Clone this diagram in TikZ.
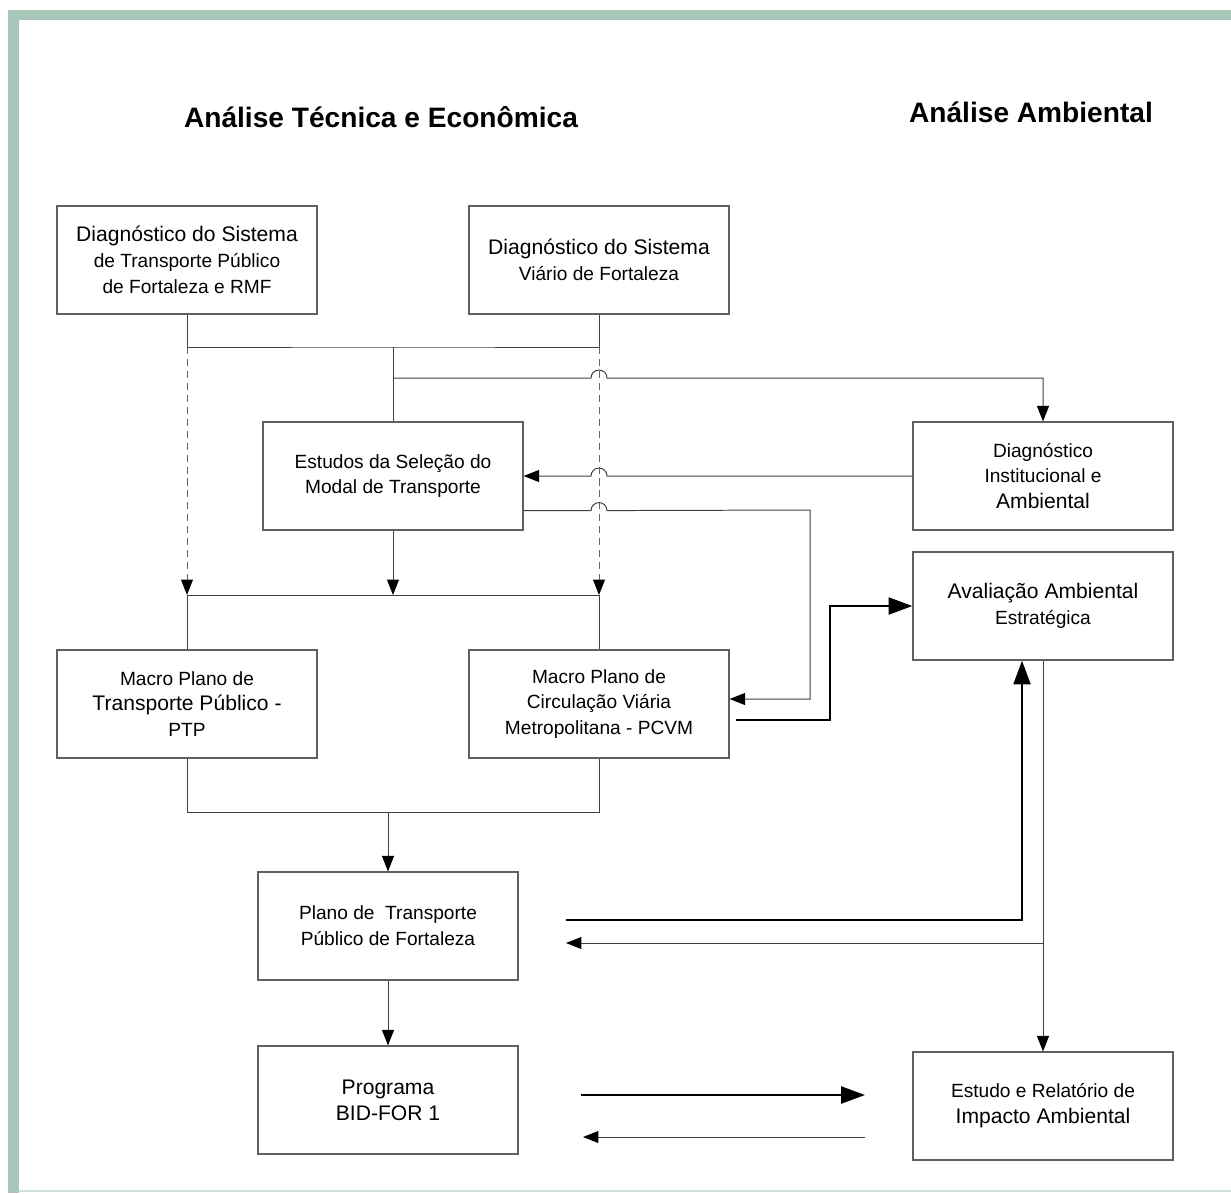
\documentclass[tikz,border=0pt]{standalone}
\usepackage{fontspec}
\setmainfont{Liberation Sans}
\usepackage{tikz}
\usetikzlibrary{positioning,calc,arrows.meta}
\definecolor{frame}{RGB}{168,199,185}
\definecolor{frameline}{RGB}{208,226,217}
\newcommand{\bln}{\fontsize{15}{18.4}\selectfont}

\begin{document}
\begin{tikzpicture}[
    x=0.025cm, y=-0.025cm,
    box/.style={draw=gray!75!black, line width=0.8pt, minimum width=6.5cm, minimum height=2.7cm,
        inner sep=0pt, align=center, font=\fontsize{13.6}{18.4}\selectfont},
    title/.style={font=\fontsize{20}{24}\selectfont\bfseries},
    line/.style={draw=black!75, line width=0.7pt},
    tip/.style={-{Triangle[length=11pt,width=8.5pt,color=black,fill=black]}},
    heavy/.style={draw=black, line width=2pt, -{Triangle[length=17pt,width=12pt]}},
    dashline/.style={draw=black!60, dash pattern=on 5pt off 3.5pt}
]
    \useasboundingbox (0,0) rectangle (1231,1193);
    \fill[frame] (8,10) rectangle (1231,20);
    \fill[frame] (8,10) rectangle (19,1193);
    \draw[frameline, line width=1.4pt] (19,1191) -- (1231,1191);

    \node[title] (t1) at (381,117) {Análise Técnica e Econômica};
    \node[title] (t2) at (1031,112) {Análise Ambiental};

    \node[box] (A) at (187,260) {{\bln Diagnóstico do Sistema}\\de Transporte Público\\de Fortaleza e RMF};
    \node[box] (B) at (599,260) {{\bln Diagnóstico do Sistema}\\Viário de Fortaleza};
    \node[box] (C) at (393,476) {Estudos da Seleção do\\Modal de Transporte};
    \node[box] (D) at (1043,476) {Diagnóstico\\Institucional e\\{\bln Ambiental}};
    \node[box] (E) at (1043,606) {{\bln Avaliação Ambiental}\\Estratégica};
    \node[box] (F) at (187,704) {Macro Plano de\\{\bln Transporte Público -}\\PTP};
    \node[box] (G) at (599,704) {Macro Plano de\\Circulação Viária\\Metropolitana - PCVM};
    \node[box] (H) at (388,926) {Plano de~ Transporte\\Público de Fortaleza};
    \node[box] (I) at (388,1100) {{\bln Programa}\\{\bln BID-FOR 1}};
    \node[box] (J) at (1043,1106) {Estudo e Relatório de\\{\bln Impacto Ambiental}};

    \coordinate (j1) at (393,347);
    \coordinate (j2) at (393,378);
    \coordinate (j3) at (393,595);
    \coordinate (j4) at (388,812);
    \coordinate (k1) at (810,510);
    \coordinate (k2) at (830,720);
    \coordinate (m1) at (566,920);
    \coordinate (m2) at (566,943);
    \coordinate (n1) at (581,1095);
    \coordinate (n2) at (865,1095);
    \coordinate (n3) at (865,1137);
    \coordinate (n4) at (583,1137);

    \draw[line] (A.south) |- (j1) -| (B.south);
    \draw[line] (j1) -- (C.north);
    \draw[line, tip] (j2) -- ($(j2 -| B.south)+(-8,0)$)
        arc[start angle=180, end angle=0, radius=0.2cm] -- (j2 -| D.north) -- (D.north);
    \draw[line, dashline, tip] (A.south |- j1) -- (A.south |- j3);
    \draw[line, dashline, tip] (B.south |- j1) -- (B.south |- j3);
    \draw[line, tip] (C.south) -- (j3);
    \draw[line] (F.north) |- (j3) -| (G.north);
    \draw[line, tip] (D.west) -- ($(D.west -| B.south)+(8,0)$)
        arc[start angle=0, end angle=180, radius=0.2cm] -- (C.east);
    \draw[line, tip] ($(C.south east)+(0,-20)$) -- ($(C.south east -| B.south)+(-8,-20)$)
        arc[start angle=180, end angle=0, radius=0.2cm] -- (k1) |- ($(G.east)+(0,-5)$);
    \draw[heavy] ($(G.east)+(6,16)$) -- (k2) -- (k2 |- E.west) -- (E.west);
    \draw[line] (F.south) |- (j4) -| (G.south);
    \draw[line, tip] (j4) -- (H.north);
    \draw[heavy] (m1) -| ($(E.south)+(-21,0)$);
    \draw[line, tip] (E.south) |- (m2);
    \draw[line, tip] (E.south |- m2) -- (J.north);
    \draw[line, tip] (H.south) -- (I.north);
    \draw[heavy] (n1) -- (n2);
    \draw[line, tip] (n3) -- (n4);
\end{tikzpicture}
\end{document}
